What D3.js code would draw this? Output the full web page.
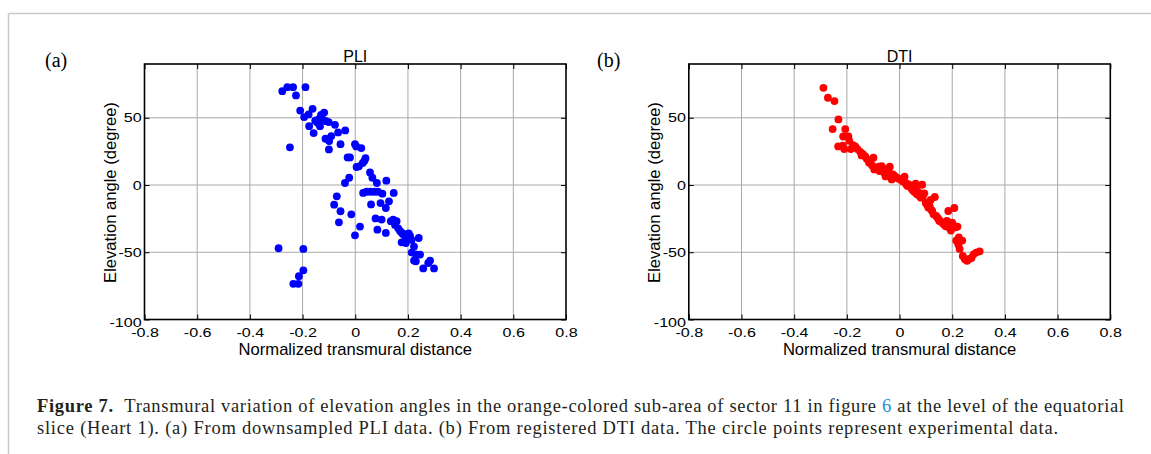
<!DOCTYPE html>
<html>
<head>
<meta charset="utf-8">
<script src="https://cdn.jsdelivr.net/npm/d3@7/dist/d3.min.js"></script>
<style>
  html, body { margin: 0; padding: 0; background: #fff; }
  svg { display: block; }
  .tick text { font-family: "Liberation Sans", Arial, sans-serif; font-size: 13px; fill: #000; }
</style>
</head>
<body>
<svg id="fig" width="1151" height="454"></svg>
<script>
// Elevation angle (degree) vs normalized transmural distance
const pliX = [-0.277,-0.258,-0.236,-0.225,-0.189,
  -0.209,-0.194,-0.177,-0.162,-0.175,-0.158,-0.152,-0.139,-0.130,-0.118,-0.134,-0.143,-0.124,-0.111,-0.101,-0.113,-0.099,-0.091,-0.100,-0.077,-0.065,-0.056,-0.038,
  -0.248,
  -0.029,-0.020,-0.001,0.004,0.023,0.039,0.035,0.028,0.014,0.005,-0.023,-0.039,
  0.056,0.065,0.082,0.118,0.146,0.128,0.116,0.096,0.103,0.086,0.072,0.058,0.043,0.030,0.060,
  -0.070,-0.080,-0.056,-0.062,-0.015,-0.001,0.018,
  0.077,0.084,0.100,0.116,0.135,0.144,0.151,0.157,0.163,0.170,0.176,0.182,0.189,0.195,0.203,0.208,0.205,0.214,0.223,0.241,0.176,0.192,0.214,0.230,0.246,0.223,0.230,0.258,0.277,0.284,0.299,
  -0.291,-0.197,-0.197,-0.214,-0.235,-0.216];
const pliY = [69.8,72.8,72.8,66.6,72.8,
  55.4,50.5,52.5,56.7,43.8,38.6,47.8,49.0,52.2,53.9,43.8,46.3,48.8,47.5,46.8,34.4,32.7,36.4,26.5,44.8,39.1,30.4,40.6,
  28.0,
  20.5,20.5,30.4,28.7,27.5,20.0,18.1,16.3,13.9,13.4,5.4,1.5,
  9.4,5.4,1.5,3.2,-5.9,-12.1,-17.1,-13.4,-6.4,-5.0,-5.0,-5.0,-5.0,-5.9,-14.4,
  -8.4,-14.6,-19.5,-27.7,-21.8,-37.4,-30.9,
  -24.8,-33.2,-25.7,-35.6,-26.9,-25.7,-29.7,-26.9,-32.2,-34.2,-35.4,-36.6,-37.9,-36.6,-35.9,-37.9,-38.4,-40.8,-45.8,-39.4,-42.6,-43.1,-50.2,-51.5,-51.7,-56.2,-56.7,-62.0,-58.0,-56.2,-62.0,
  -47.0,-47.5,-63.4,-67.8,-73.5,-73.5];

const dtiX = [-0.289,-0.272,-0.247,-0.254,-0.232,-0.233,-0.215,-0.210,-0.206,-0.214,-0.194,-0.191,-0.185,-0.177,-0.168,-0.160,-0.149,-0.139,-0.130,-0.124,-0.116,-0.111,-0.099,-0.104,-0.096,-0.089,-0.078,-0.076,-0.068,-0.061,-0.053,-0.048,-0.042,-0.037,-0.030,-0.025,-0.019,-0.010,-0.003,0.005,0.013,0.023,0.019,0.025,0.030,0.035,0.041,0.046,0.051,0.057,0.061,0.066,0.071,0.076,0.081,0.086,0.089,0.094,0.099,0.104,0.109,0.114,0.119,0.124,0.129,0.134,0.139,0.144,0.149,0.151,0.156,0.163,0.168,0.175,0.180,0.185,0.190,0.195,0.200,0.203,0.208,0.213,0.215,0.220,0.225,0.215,0.223,0.228,0.233,0.238,0.240,0.248,0.256,0.263,0.273,0.281,0.291,0.304,0.063,0.118,-0.144,-0.058];
const dtiY = [72.3,64.9,62.4,41.6,48.8,28.7,29.2,26.7,41.6,36.1,36.1,32.9,26.7,29.7,28.7,26.7,24.7,23.0,21.3,19.3,16.8,16.3,20.3,14.6,11.6,12.9,13.6,10.4,14.1,12.1,6.4,8.9,10.4,13.6,4.2,7.9,6.7,5.4,4.7,3.7,2.7,1.5,6.2,0.5,-0.7,0.5,-1.5,-2.7,-4.0,-5.2,1.0,-6.9,-5.2,-8.2,-9.4,0.2,-8.2,-6.2,-13.1,-14.4,-16.8,-15.6,-18.1,-19.3,-21.8,-8.9,-23.0,-24.3,-25.5,-26.7,-27.0,-28.2,-29.2,-30.7,-26.7,-19.3,-32.2,-33.9,-28.0,-31.2,-17.1,-31.4,-30.9,-30.9,-38.9,-41.3,-44.3,-47.5,-41.3,-41.3,-52.7,-55.2,-56.4,-55.2,-54.2,-51.5,-50.2,-49.3,-3.5,-11.1,22.0,9.0];

const xTicks = [-0.8,-0.6,-0.4,-0.2,0,0.2,0.4,0.6,0.8];
const yTicks = [-100,-50,0,50];

const panels = [
  { tag: "(a)", title: "PLI", xs: pliX, ys: pliY, color: "#0000ff", left: 144.5, tagX: 45 },
  { tag: "(b)", title: "DTI", xs: dtiX, ys: dtiY, color: "#ff0000", left: 688.8, tagX: 597 }
];

const svg = d3.select("#fig");

// outer frame: top rule and left rule
svg.append("line").attr("x1", 8.5).attr("x2", 1151).attr("y1", 13.5).attr("y2", 13.5)
  .attr("stroke", "#c8c8c8").attr("stroke-width", 1.5);
svg.append("line").attr("x1", 8.5).attr("x2", 8.5).attr("y1", 13.5).attr("y2", 454)
  .attr("stroke", "#c8c8c8").attr("stroke-width", 1.5);

const plotW = 421.5, plotTop = 64, plotBottom = 319.5;
const sans = '"Liberation Sans", Arial, sans-serif';
const serif = '"Liberation Serif", "Times New Roman", serif';
const fmt = d => String(d);   // plain hyphen-minus, as in the printed figure
const tickStretch = 1.24;     // tick numerals are drawn wide and short

panels.forEach(p => {
  const x = d3.scaleLinear().domain([-0.8, 0.8]).range([p.left, p.left + plotW]);
  const y = d3.scaleLinear().domain([-100, 90]).range([plotBottom, plotTop]);
  const g = svg.append("g");

  // grid
  g.selectAll("line.gx").data(xTicks.slice(1, -1)).join("line")
    .attr("x1", d => x(d)).attr("x2", d => x(d)).attr("y1", plotTop).attr("y2", plotBottom)
    .attr("stroke", "#a8a8a8").attr("stroke-width", 1);
  g.selectAll("line.gy").data(yTicks.slice(1)).join("line")
    .attr("x1", p.left).attr("x2", p.left + plotW).attr("y1", d => y(d)).attr("y2", d => y(d))
    .attr("stroke", "#a8a8a8").attr("stroke-width", 1);

  // points
  g.selectAll("circle").data(p.xs.map((v, i) => [v, p.ys[i]])).join("circle")
    .attr("cx", d => x(d[0])).attr("cy", d => y(d[1])).attr("r", 3.9)
    .attr("fill", p.color);

  // axes (inward ticks on all four sides)
  const ax = g.append("g").attr("transform", `translate(0,${plotBottom})`)
    .call(d3.axisBottom(x).tickValues(xTicks).tickSize(-5).tickPadding(8.3).tickFormat(fmt));
  ax.selectAll(".tick text").attr("dy", "0.71em")
    .attr("transform", `scale(${tickStretch},1)`);
  g.append("g").attr("transform", `translate(0,${plotTop})`)
    .call(d3.axisTop(x).tickValues(xTicks).tickSize(-5).tickFormat(""));
  const ay = g.append("g").attr("transform", `translate(${p.left},0)`)
    .call(d3.axisLeft(y).tickValues(yTicks).tickSize(-5).tickFormat(fmt));
  ay.selectAll(".tick text").attr("x", -2.8 / tickStretch)
    .attr("transform", `scale(${tickStretch},1)`);
  ay.selectAll(".tick").filter(d => d === -100).select("text").attr("dy", "0.55em");
  g.append("g").attr("transform", `translate(${p.left + plotW},0)`)
    .call(d3.axisRight(y).tickValues(yTicks).tickSize(-5).tickFormat(""));
  g.selectAll(".domain").remove();
  g.selectAll(".tick line").attr("stroke", "#000").attr("stroke-width", 1);

  // box
  g.append("rect").attr("x", p.left).attr("y", plotTop).attr("width", plotW).attr("height", plotBottom - plotTop)
    .attr("fill", "none").attr("stroke", "#000").attr("stroke-width", 1.6);

  // labels
  g.append("text").attr("x", x(0)).attr("y", 61.5).attr("text-anchor", "middle")
    .attr("font-family", sans).attr("font-size", 16).text(p.title);
  g.append("text").attr("x", x(0)).attr("y", 355).attr("text-anchor", "middle")
    .attr("font-family", sans).attr("font-size", 16.6).text("Normalized transmural distance");
  g.append("text").attr("transform", `translate(${p.left - 28.8},192.5) rotate(-90)`)
    .attr("text-anchor", "middle").attr("font-family", sans).attr("font-size", 16.6)
    .text("Elevation angle (degree)");
  g.append("text").attr("x", p.tagX).attr("y", 67).attr("font-family", serif).attr("font-size", 20)
    .text(p.tag);
});

// caption
const cap1 = svg.append("text").attr("x", 37).attr("y", 412)
  .attr("font-family", serif).attr("font-size", 18.5).attr("fill", "#231f20")
  .attr("textLength", 1087).attr("lengthAdjust", "spacing");
cap1.append("tspan").attr("font-weight", "bold").text("Figure\u00a07.");
cap1.append("tspan").text("\u00a0\u00a0Transmural variation of elevation angles in the orange-colored sub-area of sector 11 in figure ");
cap1.append("tspan").attr("fill", "#1a8fd6").text("6");
cap1.append("tspan").text(" at the level of the equatorial");
svg.append("text").attr("x", 37).attr("y", 434)
  .attr("font-family", serif).attr("font-size", 18.5).attr("fill", "#231f20")
  .attr("textLength", 1021).attr("lengthAdjust", "spacing")
  .text("slice (Heart 1). (a) From downsampled PLI data. (b) From registered DTI data. The circle points represent experimental data.");
</script>
</body>
</html>
